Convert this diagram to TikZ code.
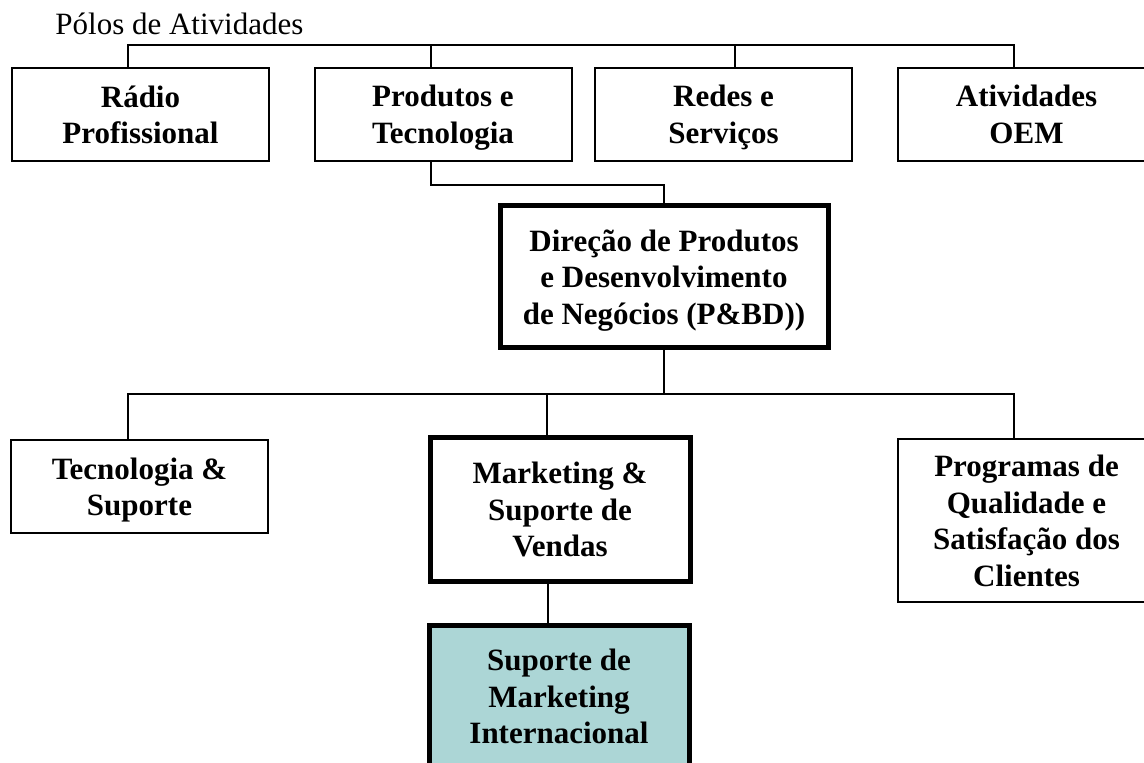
\documentclass[tikz,border=0pt]{standalone}
\usepackage{fontspec}
\setmainfont{Liberation Serif}
\usetikzlibrary{positioning}

\definecolor{tuerkis}{RGB}{172,214,214}

\tikzset{
	kasten/.style={draw=black, line width=1pt, rectangle, align=center,
		minimum width=128.5pt, minimum height=46.5pt, inner sep=0pt,
		text depth=0pt, font=\fontsize{15.5pt}{18.25pt}\selectfont\bfseries},
	dickkasten/.style={kasten, line width=2.5pt},
	linie/.style={draw=black, line width=0.8pt}
}

\begin{document}
\begin{tikzpicture}[x=0.5pt, y=-0.5pt]
	\useasboundingbox (0,0) rectangle (1144,763);

	% Ueberschrift
	\node[anchor=base west, inner sep=0pt, font=\fontsize{15.5pt}{18pt}\selectfont]
		(titel) at (55,35) {Pólos de Atividades};

	% Obere Ebene
	\node[kasten] (radio) at (140.5,114.5) {Rádio\\Profissional};
	\node[kasten] (produtos) at (443,114.5) {Produtos e\\Tecnologia};
	\node[kasten] (redes) at (723.5,114.5) {Redes e\\Serviços};
	\node[kasten] (oem) at (1026.5,114.5) {Atividades\\OEM};
	\coordinate (pol) at (0,45);

	% Direktion
	\node[dickkasten, minimum width=164pt, minimum height=71pt]
		(direcao) at (664,277)
		{Direção de Produtos\\e Desenvolvimento\\de Negócios (P\&BD))};

	% Untere Ebene
	\node[kasten] (tecnologia) at (139.5,486.5) {Tecnologia \&\\Suporte};
	\node[dickkasten, minimum width=130pt, minimum height=71.5pt]
		(marketing) at (560,509.5) {Marketing \&\\Suporte de\\Vendas};
	\node[kasten, minimum height=81.5pt]
		(programas) at (1026.5,520.5)
		{Programas de\\Qualidade e\\Satisfação dos\\Clientes};
	\node[dickkasten, fill=tuerkis, minimum width=130pt, minimum height=71.5pt]
		(suporte) at (559,696.5) {Suporte de\\Marketing\\Internacional};
	\coordinate (ebene) at (0,394);

	% Verbindungen oben
	\draw[linie] ([xshift=-6.25pt]radio.north) |- ([xshift=-6.25pt]oem.north |- pol)
		-- ([xshift=-6.25pt]oem.north);
	\draw[linie] ([xshift=-6pt]produtos.north) -- ([xshift=-6pt]produtos.north |- pol);
	\draw[linie] ([xshift=5.75pt]redes.north) -- ([xshift=5.75pt]redes.north |- pol);
	\draw[linie] ([xshift=-6pt]produtos.south) -- ++(0,23) -| (direcao.north);

	% Verbindungen unten
	\draw[linie] (direcao.south) -- (direcao.south |- ebene);
	\draw[linie] ([xshift=-5.75pt]tecnologia.north) |- ([xshift=-6.25pt]programas.north |- ebene)
		-- ([xshift=-6.25pt]programas.north);
	\draw[linie] ([xshift=-6.5pt]marketing.north) -- ([xshift=-6.5pt]marketing.north |- ebene);
	\draw[linie] ([xshift=-6pt]marketing.south) -- ([xshift=-6pt]marketing.south |- suporte.north);
\end{tikzpicture}
\end{document}
